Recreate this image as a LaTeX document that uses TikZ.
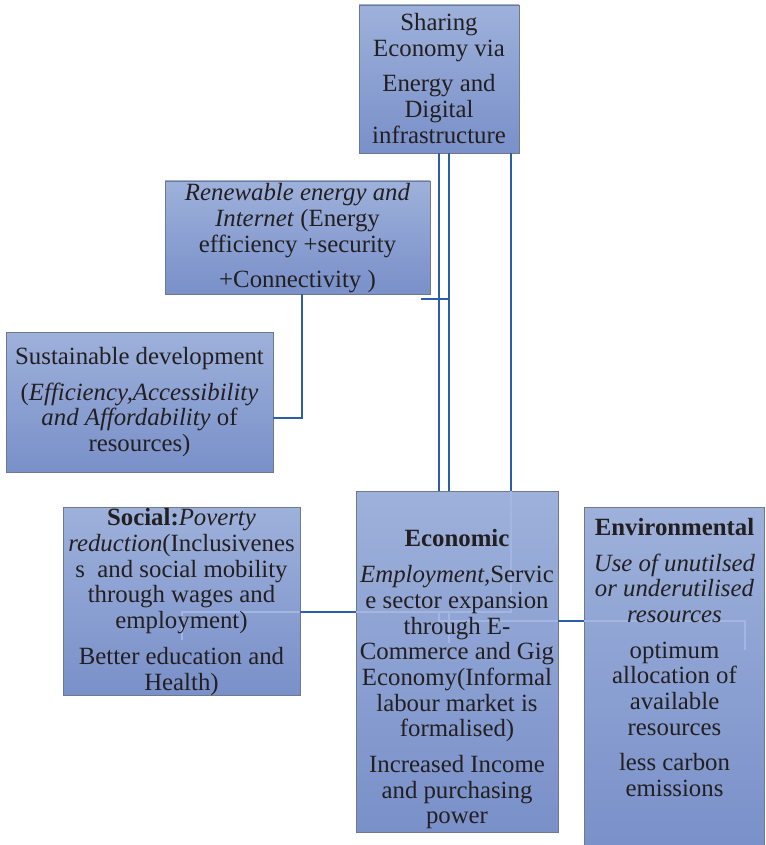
\documentclass[tikz,border=0pt]{standalone}
\usepackage{fontspec}
\setmainfont{Liberation Serif}
\definecolor{conncol}{RGB}{47,94,168}
\definecolor{faintcol}{RGB}{163,182,226}
\definecolor{boxtop}{RGB}{158,177,219}
\definecolor{boxbot}{RGB}{121,144,201}
\definecolor{boxline}{RGB}{112,120,140}
\definecolor{ink}{RGB}{35,31,32}
\begin{document}
\begin{tikzpicture}[x=1pt,y=-1pt,
  box/.style={draw=boxline, line width=0.8pt, top color=boxtop, bottom color=boxbot, rectangle, inner sep=0pt},
  txt/.style={align=center, inner sep=0pt, text=ink, font=\fontsize{24.8}{25.7}\selectfont},
  link/.style={draw=conncol, line width=2pt},
  ghost/.style={draw=faintcol, line width=1.3pt}]
\useasboundingbox (0,0) rectangle (765,845);

% boxes
\node[box, minimum width=160pt, minimum height=148pt] (share) at (439,79) {};
\node[box, minimum width=265pt, minimum height=113pt] (renew) at (297.5,237.5) {};
\node[box, minimum width=267pt, minimum height=140pt] (sust) at (139.5,402) {};
\node[box, minimum width=237pt, minimum height=188pt] (social) at (181.5,601) {};
\node[box, minimum width=202pt, minimum height=341pt] (econ) at (457,661.5) {};
\node[box, minimum width=180pt, minimum height=343pt] (env) at (674,678.5) {};

% connectors
\coordinate (xA) at (439,0);
\coordinate (xB) at (449,0);
\coordinate (xC) at (511,0);
\draw[link] (share.south -| xA) -- (econ.north -| xA);
\draw[link] (share.south -| xB) -- (econ.north -| xB);
\draw[link] (share.south -| xC) -- (econ.north -| xC);
\coordinate (rstub) at (421,299);
\draw[link] (rstub) -- (rstub -| xB);
\coordinate (rk) at (302,418);
\draw[link] (renew.south -| rk) -- (rk) -- (rk -| sust.east);
\coordinate (sl) at (0,612);
\draw[link] (social.east |- sl) -- (econ.west |- sl);
\coordinate (el) at (0,621);
\draw[link] (econ.east |- el) -- (env.west |- el);

% faint continuations seen through the boxes
\coordinate (sk) at (182,640);
\coordinate (ek) at (745,650);
\draw[ghost] (econ.north -| xC) -- (xC |- sl) -- (econ.west |- sl);
\draw[ghost] (social.east |- sl) -- (sk |- sl) -- (sk);
\draw[ghost] (xA |- sl) -- (xA |- el) -- (econ.east |- el);
\draw[ghost] (xB |- sl) -- (449,643);
\draw[ghost] (env.west |- el) -- (ek |- el) -- (ek);

% texts
\node[txt] (shareT) at (439,78.5) {Sharing\\Economy via\\[10pt]Energy and\\Digital\\infrastructure};
\node[txt] (renewT) at (297.5,238.5) {\textit{Renewable energy and}\\\textit{Internet} (Energy\\efficiency +security\\[10pt]+Connectivity )};
\node[txt] (sustT) at (139.5,402) {Sustainable development\\[10pt](\textit{Efficiency,Accessibility}\\\textit{and Affordability} of\\resources)};
\node[txt] (socialT) at (181.5,602) {\textbf{Social:}\textit{Poverty}\\\textit{reduction}(Inclusivenes\\s\ \ and social mobility\\through wages and\\employment)\\[10pt]Better education and\\Health)};
\node[txt] (econT) at (457,679.5) {\textbf{Economic}\\[10pt]\textit{Employment,}Servic\\e sector expansion\\through E-\\Commerce and Gig\\Economy(Informal\\labour market is\\formalised)\\[10pt]Increased Income\\and purchasing\\power};
\node[txt] (envT) at (674.5,657.5) {\textbf{Environmental}\\[10pt]\textit{Use of unutilsed}\\\textit{or underutilised}\\\textit{resources}\\[10pt]optimum\\allocation of\\available\\resources\\[10pt]less carbon\\emissions};
\end{tikzpicture}
\end{document}
